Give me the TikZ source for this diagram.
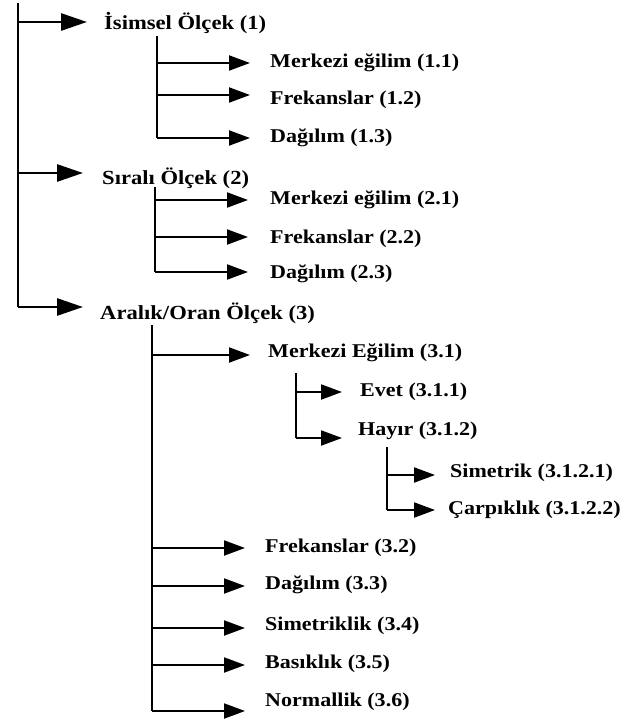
\documentclass[tikz,border=0pt]{standalone}
\usepackage{fontspec}
\setmainfont{Liberation Serif}[FakeStretch=1.13]
\usetikzlibrary{arrows.meta}
\begin{document}
\begin{tikzpicture}[x=1pt,y=-1pt,
  trunk/.style={line width=2.8pt},
  subtrunk/.style={line width=2pt},
  bigarr/.style={line width=2.8pt,-{Triangle[length=26pt,width=17pt]}},
  arr/.style={line width=2pt,-{Triangle[length=21pt,width=15pt]}},
  lab/.style={anchor=west,inner sep=0pt,font=\fontsize{20}{24}\selectfont\bfseries},
  sublab/.style={anchor=west,inner sep=0pt,font=\fontsize{19.5}{24}\selectfont\bfseries}]
\useasboundingbox (0,0) rectangle (625,719);
% main trunk
\coordinate (m0) at (18,3);
\coordinate (m1) at (18,307);
\coordinate (t1) at (87,22);
\coordinate (t2) at (83,173);
\coordinate (t3) at (83,307);
\node[lab] (n1) at (104,23) {İsimsel Ölçek (1)};
\node[lab] (n2) at (102,178) {Sıralı Ölçek (2)};
\node[lab] (n3) at (100,313) {Aralık/Oran Ölçek (3)};
\draw[trunk] (m0) -- (m1);
\draw[bigarr] (m0 |- t1) -- (t1);
\draw[bigarr] (m0 |- t2) -- (t2);
\draw[bigarr] (m1) -- (t3);
% sub 1
\coordinate (s1a) at (157,36);
\coordinate (s1b) at (157,138);
\coordinate (t11) at (250,63);
\coordinate (t12) at (250,95);
\coordinate (t13) at (250,138);
\node[sublab] (n11) at (270,63) {Merkezi eğilim (1.1)};
\node[sublab] (n12) at (270,100) {Frekanslar (1.2)};
\node[sublab] (n13) at (270,138) {Dağılım (1.3)};
\draw[subtrunk] (s1a) -- (s1b);
\draw[arr] (s1a |- t11) -- (t11);
\draw[arr] (s1a |- t12) -- (t12);
\draw[arr] (s1b) -- (t13);
% sub 2
\coordinate (s2a) at (155,187);
\coordinate (s2b) at (155,272);
\coordinate (t21) at (248,200);
\coordinate (t22) at (248,237);
\coordinate (t23) at (248,272);
\node[sublab] (n21) at (270,200) {Merkezi eğilim (2.1)};
\node[sublab] (n22) at (270,239) {Frekanslar (2.2)};
\node[sublab] (n23) at (270,274) {Dağılım (2.3)};
\draw[subtrunk] (s2a) -- (s2b);
\draw[arr] (s2a |- t21) -- (t21);
\draw[arr] (s2a |- t22) -- (t22);
\draw[arr] (s2b) -- (t23);
% sub 3
\coordinate (s3a) at (152,325);
\coordinate (s3b) at (152,711);
\coordinate (t31) at (250,355);
\coordinate (t32) at (245,548);
\coordinate (t33) at (245,586);
\coordinate (t34) at (245,628);
\coordinate (t35) at (245,665);
\coordinate (t36) at (245,711);
\node[sublab] (n31) at (268,353) {Merkezi Eğilim (3.1)};
\node[sublab] (n32) at (265,548) {Frekanslar (3.2)};
\node[sublab] (n33) at (265,585) {Dağılım (3.3)};
\node[sublab] (n34) at (265,626) {Simetriklik (3.4)};
\node[sublab] (n35) at (265,664) {Basıklık (3.5)};
\node[sublab] (n36) at (265,702) {Normallik (3.6)};
\draw[subtrunk] (s3a) -- (s3b);
\draw[arr] (s3a |- t31) -- (t31);
\draw[arr] (s3a |- t32) -- (t32);
\draw[arr] (s3a |- t33) -- (t33);
\draw[arr] (s3a |- t34) -- (t34);
\draw[arr] (s3a |- t35) -- (t35);
\draw[arr] (s3b) -- (t36);
% sub 3.1
\coordinate (s31a) at (296,373);
\coordinate (s31b) at (296,438);
\coordinate (t311) at (342,392);
\coordinate (t312) at (342,438);
\node[sublab] (n311) at (360,392) {Evet (3.1.1)};
\node[sublab] (n312) at (358,431) {Hayır (3.1.2)};
\draw[subtrunk] (s31a) -- (s31b);
\draw[arr] (s31a |- t311) -- (t311);
\draw[arr] (s31b) -- (t312);
% sub 3.1.2
\coordinate (s312a) at (387,447);
\coordinate (s312b) at (387,510);
\coordinate (t3121) at (435,475);
\coordinate (t3122) at (435,510);
\node[sublab] (n3121) at (450,473) {Simetrik (3.1.2.1)};
\node[sublab] (n3122) at (448,510) {Çarpıklık (3.1.2.2)};
\draw[subtrunk] (s312a) -- (s312b);
\draw[arr] (s312a |- t3121) -- (t3121);
\draw[arr] (s312b) -- (t3122);
\end{tikzpicture}
\end{document}
